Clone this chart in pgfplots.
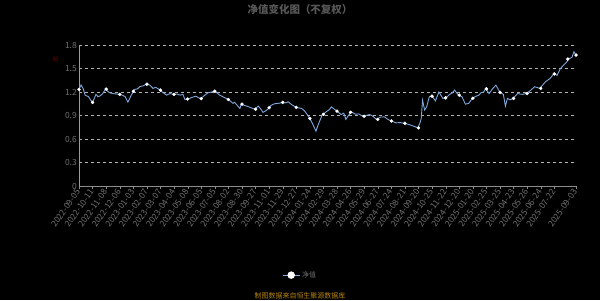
\documentclass[border=0pt]{standalone}
\usepackage{fontspec}
\setmainfont{Noto Sans CJK SC}
\usepackage{pgfplots}
\pgfplotsset{compat=1.18}
\definecolor{lineblue}{HTML}{7FA8DA}
\definecolor{tickgray}{HTML}{707070}
\definecolor{titlegray}{HTML}{575757}
\definecolor{gridgray}{HTML}{B4B4B4}
\definecolor{srcgold}{HTML}{B8860B}
\definecolor{ylabred}{HTML}{8B0000}
\begin{document}
\begin{tikzpicture}[x=1bp,y=1bp]
\fill[black] (0,0) rectangle (600,300);
\useasboundingbox (0,0) rectangle (600,300);
\begin{axis}[
  at={(79bp,114bp)}, anchor=south west,
  scale only axis, width=497bp, height=141bp,
  xmin=0, xmax=732, ymin=0, ymax=1.8,
  axis x line*=bottom, axis y line*=left,
  x axis line style={draw=tickgray!80},
  y axis line style={draw=tickgray!70},
  ytick={0,0.3,0.6,0.9,1.2,1.5,1.8},
  yticklabels={0,0.3,0.6,0.9,1.2,1.5,1.8},
  ytick style={draw=none},
  xtick={0,20,...,700,732},
  xticklabels={2022-09-05,2022-10-11,2022-11-08,2022-12-06,2023-01-03,2023-02-07,2023-03-07,2023-04-04,2023-05-08,2023-06-05,2023-07-05,2023-08-02,2023-08-30,2023-09-27,2023-11-01,2023-11-29,2023-12-27,2024-01-24,2024-02-29,2024-03-28,2024-04-26,2024-05-29,2024-06-27,2024-07-24,2024-08-21,2024-09-20,2024-10-25,2024-11-22,2024-12-20,2025-01-20,2025-02-25,2025-03-25,2025-04-23,2025-05-26,2025-06-24,2025-07-22,2025-09-03},
  xtick align=outside, major tick length=3bp,
  xtick style={draw=tickgray!80},
  tick label style={font=\fontsize{8.5}{9}\selectfont, text=tickgray},
  xticklabel style={rotate=55, anchor=east, inner sep=1.5bp},
  yticklabel style={inner sep=2bp},
  /pgf/number format/assume math mode=true,
  ymajorgrids, major grid style={draw=gridgray, dash pattern=on 3bp off 3bp, line width=0.6pt},
  legend style={at={(0.445,-0.632)}, anchor=center, draw=none, fill=none,
    text=tickgray, font=\fontsize{7}{8}\selectfont},
  clip=false,
]
\addlegendimage{lineblue, line width=1pt, mark=*, mark size=3.2bp, mark options={fill=white, draw=white}}
\addlegendentry{净值}
\addplot[lineblue, line width=0.9pt, forget plot] coordinates {
(0,1.233)(3,1.29)(6,1.246)(9,1.16)(14,1.14)(17,1.10)(20,1.067)(25,1.17)(28,1.14)(31,1.15)(35,1.18)(39,1.237)
(45,1.19)(50,1.18)(55,1.175)(59,1.17)(64,1.16)(68,1.14)(72,1.07)(77,1.16)(82,1.233)(86,1.24)(90,1.27)(95,1.28)(99,1.30)
(104,1.29)(109,1.246)(113,1.26)(118,1.233)(124,1.19)(129,1.16)(134,1.18)(139,1.17)(144,1.175)(149,1.16)
(153,1.17)(156,1.105)(161,1.11)(166,1.13)(172,1.147)(179,1.113)(184,1.15)(190,1.19)(195,1.20)(199,1.21)
(203,1.19)(207,1.16)(214,1.13)(220,1.105)(227,1.054)(229,1.07)(233,1.03)(237,0.99)(239,1.045)(243,1.03)
(247,1.02)(253,1.00)(259,0.98)(264,1.02)(268,0.98)(271,0.94)(275,0.96)(278,0.98)(283,1.03)(288,1.05)(293,1.054)
(300,1.067)(304,1.06)(308,1.075)(313,1.04)(320,1.003)(328,0.99)(332,0.96)(335,0.926)(340,0.862)(345,0.776)
(349,0.70)(352,0.776)(358,0.904)(364,0.947)(368,0.97)(372,1.01)(376,0.98)(380,0.955)(386,0.913)
(390,0.93)(393,0.85)(396,0.89)(401,0.947)(407,0.917)(412,0.92)(418,0.89)(423,0.90)(428,0.913)(433,0.89)
(438,0.85)(444,0.88)(450,0.883)(455,0.85)(460,0.83)(467,0.806)(473,0.81)(479,0.80)(484,0.79)(489,0.776)
(494,0.76)(499,0.742)(502,0.80)(504,0.86)(506,1.096)(509,0.97)(512,1.01)(516,1.14)(520,1.147)(525,1.087)
(530,1.20)(536,1.118)(541,1.13)(546,1.17)(550,1.19)(553,1.224)(559,1.16)(564,1.14)(569,1.045)(574,1.054)
(579,1.118)(585,1.147)(589,1.16)(592,1.19)(596,1.20)(599,1.246)(604,1.18)(609,1.24)(614,1.288)(620,1.195)
(625,1.17)(628,1.02)(631,1.118)(635,1.10)(639,1.118)(646,1.18)(653,1.17)(659,1.18)(665,1.22)(671,1.267)
(679,1.246)(683,1.29)(687,1.33)(694,1.374)(698,1.42)(701,1.438)(704,1.41)(709,1.50)(714,1.544)(718,1.58)
(721,1.62)(726,1.643)(729,1.714)(732,1.672)
};
\addplot[only marks, mark=*, mark size=1.5bp, mark options={fill=white, draw=white}, forget plot] coordinates {
(0,1.233)(20,1.067)(40,1.237)(60,1.17)(80,1.21)(100,1.30)(120,1.225)(140,1.17)(160,1.11)(180,1.115)
(200,1.21)(220,1.105)(240,1.045)(260,0.98)(280,1.00)(300,1.067)(320,1.003)(340,0.862)(360,0.915)(380,0.955)
(400,0.94)(420,0.89)(440,0.85)(460,0.83)(480,0.80)(500,0.742)(520,1.147)(540,1.125)(560,1.16)(580,1.12)
(600,1.24)(620,1.195)(640,1.118)(660,1.18)(680,1.246)(700,1.43)(720,1.62)(732,1.672)
};
\end{axis}
\node[text=titlegray, font=\fontsize{10.5}{11}\selectfont\bfseries] at (300,290.5) {净值变化图（不复权）};
\node[text=ylabred, rotate=90, font=\fontsize{6}{6}\selectfont] at (55.7,240) {元};
\node[text=srcgold, font=\fontsize{7}{7}\selectfont] at (300,4.5) {制图数据来自恒生聚源数据库};
\end{tikzpicture}
\end{document}
